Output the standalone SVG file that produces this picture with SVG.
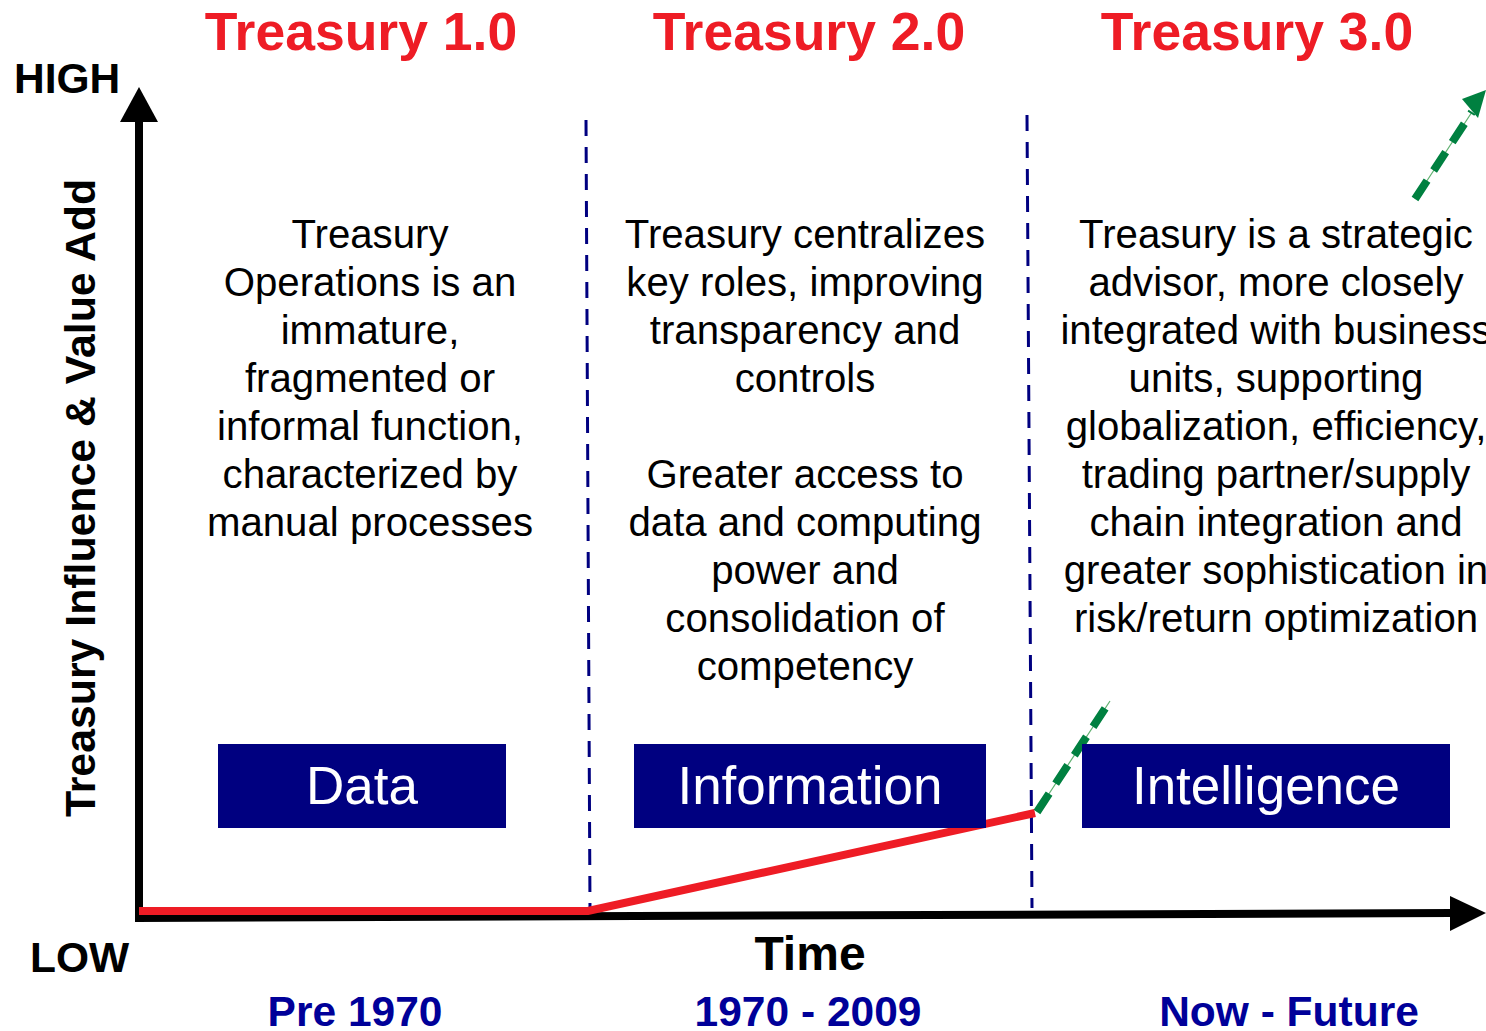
<svg xmlns="http://www.w3.org/2000/svg" width="1486" height="1031" viewBox="0 0 1486 1031">
<style>
.title{font-family:"Liberation Sans",Arial,sans-serif;font-weight:bold;font-size:53.5px;fill:#ee1c25;text-anchor:middle}
.axis{font-family:"Liberation Sans",Arial,sans-serif;font-weight:bold;font-size:42.5px;fill:#000}
.era{font-family:"Liberation Sans",Arial,sans-serif;font-weight:bold;font-size:42.5px;fill:#000099;text-anchor:middle}
.body{font-family:"Liberation Sans",Arial,sans-serif;font-size:40.2px;fill:#000;text-anchor:middle}
.box{fill:#000080}
.boxlabel{font-family:"Liberation Sans",Arial,sans-serif;font-size:53px;fill:#fff;text-anchor:middle}
.div{stroke:#000080;stroke-width:3;stroke-dasharray:16,11;fill:none}
.green{stroke:#008040;stroke-width:8;stroke-dasharray:22,12;fill:none}
.gthin{stroke:#5fb06f;stroke-width:1.2;fill:none}
</style>
<rect width="1486" height="1031" fill="#fff"/>
<g id="titles">
<text class="title" x="361" y="50">Treasury 1.0</text>
<text class="title" x="809" y="50">Treasury 2.0</text>
<text class="title" x="1257" y="50">Treasury 3.0</text>
</g>
<g id="connectors">
<line class="div" x1="586" y1="120" x2="590" y2="910"/>
<line class="div" x1="1027" y1="115" x2="1032" y2="908"/>
<line x1="139" y1="120" x2="139" y2="922" stroke="#000" stroke-width="8"/>
<polygon points="139,87 120,122 158,122" fill="#000"/>
<line x1="135" y1="918" x2="1452" y2="913" stroke="#000" stroke-width="8"/>
<polygon points="1486,913 1450,896 1450,931" fill="#000"/>
<polyline points="139,911 588,911 1035,813" fill="none" stroke="#ee1c25" stroke-width="8"/>
<line class="gthin" x1="1037" y1="812" x2="1110" y2="701"/>
<line class="green" x1="1037" y1="812" x2="1110" y2="701"/>
<line class="gthin" x1="1415" y1="199" x2="1472" y2="112"/>
<line class="green" x1="1415" y1="199" x2="1472" y2="112"/>
<polygon points="1486,90 1462,99 1478,118" fill="#008040"/>
</g>
<g id="axis-labels">
<text class="axis" x="14" y="93">HIGH</text>
<text class="axis" x="30" y="972">LOW</text>
<text class="axis" x="810" y="970" text-anchor="middle" style="font-size:48px">Time</text>
<text class="axis" x="95" y="498" text-anchor="middle" transform="rotate(-90 95 498)" style="font-size:42.8px">Treasury Influence &amp; Value Add</text>
</g>
<g id="eras">
<text class="era" x="355" y="1026">Pre 1970</text>
<text class="era" x="808" y="1026">1970 - 2009</text>
<text class="era" x="1289" y="1026">Now - Future</text>
</g>
<g id="col1-text">
<text class="body" x="370" y="248">Treasury</text>
<text class="body" x="370" y="296">Operations is an</text>
<text class="body" x="370" y="344">immature,</text>
<text class="body" x="370" y="392">fragmented or</text>
<text class="body" x="370" y="440">informal function,</text>
<text class="body" x="370" y="488">characterized by</text>
<text class="body" x="370" y="536">manual processes</text>
</g>
<g id="col2-text">
<text class="body" x="805" y="248">Treasury centralizes</text>
<text class="body" x="805" y="296">key roles, improving</text>
<text class="body" x="805" y="344">transparency and</text>
<text class="body" x="805" y="392">controls</text>
<text class="body" x="805" y="488">Greater access to</text>
<text class="body" x="805" y="536">data and computing</text>
<text class="body" x="805" y="584">power and</text>
<text class="body" x="805" y="632">consolidation of</text>
<text class="body" x="805" y="680">competency</text>
</g>
<g id="col3-text">
<text class="body" x="1276" y="248">Treasury is a strategic</text>
<text class="body" x="1276" y="296">advisor, more closely</text>
<text class="body" x="1276" y="344">integrated with business</text>
<text class="body" x="1276" y="392">units, supporting</text>
<text class="body" x="1276" y="440">globalization, efficiency,</text>
<text class="body" x="1276" y="488">trading partner/supply</text>
<text class="body" x="1276" y="536">chain integration and</text>
<text class="body" x="1276" y="584">greater sophistication in</text>
<text class="body" x="1276" y="632">risk/return optimization</text>
</g>
<g id="node-data">
<rect class="box" x="218" y="744" width="288" height="84"/>
<text class="boxlabel" x="362" y="804">Data</text>
</g>
<g id="node-information">
<rect class="box" x="634" y="744" width="352" height="84"/>
<text class="boxlabel" x="810" y="804">Information</text>
</g>
<g id="node-intelligence">
<rect class="box" x="1082" y="744" width="368" height="84"/>
<text class="boxlabel" x="1266" y="804">Intelligence</text>
</g>
</svg>
